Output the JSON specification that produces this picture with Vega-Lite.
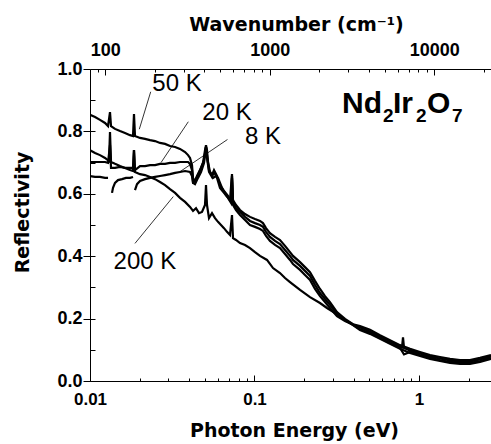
{
 "$schema": "https://vega.github.io/schema/vega-lite/v6.json",
 "width": 401, "height": 312,
 "autosize": {"type": "none"},
 "padding": {"left": 90, "top": 69, "right": 0, "bottom": 63},
 "background": "white",
 "config": {"view": {"stroke": null}, "axis": {"grid": false, "domainColor": "black", "tickColor": "black", "labelColor": "black", "titleColor": "black", "domainWidth": 1, "tickWidth": 1}},
 "layer": [
  {
   "layer": [
    {
     "data": {"values": [
{"c":"50K","E":0.01,"R":0.853},{"c":"50K","E":0.01073,"R":0.846},{"c":"50K","E":0.0115,"R":0.837},{"c":"50K","E":0.01234,"R":0.827},{"c":"50K","E":0.01287,"R":0.817},{"c":"50K","E":0.01323,"R":0.862},{"c":"50K","E":0.01342,"R":0.817},{"c":"50K","E":0.01419,"R":0.808},{"c":"50K","E":0.01522,"R":0.801},{"c":"50K","E":0.01632,"R":0.795},{"c":"50K","E":0.01751,"R":0.788},{"c":"50K","E":0.01826,"R":0.785},{"c":"50K","E":0.01851,"R":0.856},{"c":"50K","E":0.01877,"R":0.785},{"c":"50K","E":0.02014,"R":0.779},{"c":"50K","E":0.0216,"R":0.776},{"c":"50K","E":0.02317,"R":0.772},{"c":"50K","E":0.02485,"R":0.769},{"c":"50K","E":0.02665,"R":0.763},{"c":"50K","E":0.02859,"R":0.76},{"c":"50K","E":0.03064,"R":0.753},{"c":"50K","E":0.03289,"R":0.75},{"c":"50K","E":0.03525,"R":0.744},{"c":"50K","E":0.03784,"R":0.734},{"c":"50K","E":0.03946,"R":0.724},{"c":"50K","E":0.04055,"R":0.715},{"c":"50K","E":0.0417,"R":0.692},{"c":"50K","E":0.04229,"R":0.651},{"c":"50K","E":0.04349,"R":0.638},{"c":"50K","E":0.04472,"R":0.657},{"c":"50K","E":0.04664,"R":0.676},{"c":"50K","E":0.04864,"R":0.699},{"c":"50K","E":0.05002,"R":0.74},{"c":"50K","E":0.05072,"R":0.756},{"c":"50K","E":0.05144,"R":0.74},{"c":"50K","E":0.05216,"R":0.702},{"c":"50K","E":0.05364,"R":0.67},{"c":"50K","E":0.05595,"R":0.651},{"c":"50K","E":0.05834,"R":0.657},{"c":"50K","E":0.06,"R":0.651},{"c":"50K","E":0.06346,"R":0.619},{"c":"50K","E":0.06711,"R":0.596},{"c":"50K","E":0.07097,"R":0.58},{"c":"50K","E":0.07298,"R":0.663},{"c":"50K","E":0.07401,"R":0.58},{"c":"50K","E":0.07719,"R":0.564},{"c":"50K","E":0.08164,"R":0.548},{"c":"50K","E":0.08756,"R":0.535},{"c":"50K","E":0.09391,"R":0.526},{"c":"50K","E":0.1007,"R":0.519},{"c":"50K","E":0.108,"R":0.513},{"c":"50K","E":0.1126,"R":0.506},{"c":"50K","E":0.1175,"R":0.49},{"c":"50K","E":0.1242,"R":0.474},{"c":"50K","E":0.1333,"R":0.462},{"c":"50K","E":0.1429,"R":0.452},{"c":"50K","E":0.1533,"R":0.433},{"c":"50K","E":0.1644,"R":0.413},{"c":"50K","E":0.1714,"R":0.401},{"c":"50K","E":0.1891,"R":0.381},{"c":"50K","E":0.2028,"R":0.365},{"c":"50K","E":0.2175,"R":0.349},{"c":"50K","E":0.2332,"R":0.321},{"c":"50K","E":0.2501,"R":0.295},{"c":"50K","E":0.2683,"R":0.272},{"c":"50K","E":0.2877,"R":0.253},{"c":"50K","E":0.3173,"R":0.221},{"c":"50K","E":0.3549,"R":0.199},{"c":"50K","E":0.397,"R":0.182},{"c":"50K","E":0.4378,"R":0.176},{"c":"50K","E":0.5036,"R":0.164},{"c":"50K","E":0.5794,"R":0.147},{"c":"50K","E":0.6664,"R":0.131},{"c":"50K","E":0.7666,"R":0.115},{"c":"50K","E":0.8819,"R":0.103},{"c":"50K","E":1.014,"R":0.093},{"c":"50K","E":1.167,"R":0.083},{"c":"50K","E":1.342,"R":0.077},{"c":"50K","E":1.544,"R":0.071},{"c":"50K","E":1.776,"R":0.067},{"c":"50K","E":2.042,"R":0.067},{"c":"50K","E":2.349,"R":0.074},{"c":"50K","E":2.74,"R":0.083},
{"c":"20K","E":0.01,"R":0.702},{"c":"20K","E":0.01073,"R":0.702},{"c":"20K","E":0.0115,"R":0.702},{"c":"20K","E":0.01234,"R":0.702},{"c":"20K","E":0.01287,"R":0.699},{"c":"20K","E":0.01323,"R":0.756},{"c":"20K","E":0.01342,"R":0.683},{"c":"20K","E":0.01419,"R":0.683},{"c":"20K","E":0.01522,"R":0.686},{"c":"20K","E":0.01632,"R":0.683},{"c":"20K","E":0.01751,"R":0.683},{"c":"20K","E":0.01826,"R":0.683},{"c":"20K","E":0.01851,"R":0.74},{"c":"20K","E":0.01877,"R":0.676},{"c":"20K","E":0.02014,"R":0.689},{"c":"20K","E":0.0216,"R":0.689},{"c":"20K","E":0.02317,"R":0.692},{"c":"20K","E":0.02485,"R":0.692},{"c":"20K","E":0.02665,"R":0.696},{"c":"20K","E":0.02859,"R":0.696},{"c":"20K","E":0.03064,"R":0.699},{"c":"20K","E":0.03289,"R":0.699},{"c":"20K","E":0.03525,"R":0.702},{"c":"20K","E":0.03784,"R":0.702},{"c":"20K","E":0.03946,"R":0.702},{"c":"20K","E":0.04055,"R":0.696},{"c":"20K","E":0.0417,"R":0.676},{"c":"20K","E":0.04229,"R":0.638},{"c":"20K","E":0.04349,"R":0.644},{"c":"20K","E":0.04535,"R":0.66},{"c":"20K","E":0.0473,"R":0.683},{"c":"20K","E":0.04932,"R":0.708},{"c":"20K","E":0.05072,"R":0.75},{"c":"20K","E":0.05144,"R":0.724},{"c":"20K","E":0.0529,"R":0.676},{"c":"20K","E":0.05517,"R":0.66},{"c":"20K","E":0.05673,"R":0.676},{"c":"20K","E":0.05917,"R":0.657},{"c":"20K","E":0.0617,"R":0.628},{"c":"20K","E":0.06526,"R":0.609},{"c":"20K","E":0.06901,"R":0.593},{"c":"20K","E":0.07197,"R":0.577},{"c":"20K","E":0.07298,"R":0.657},{"c":"20K","E":0.07401,"R":0.571},{"c":"20K","E":0.07719,"R":0.554},{"c":"20K","E":0.08164,"R":0.542},{"c":"20K","E":0.08756,"R":0.526},{"c":"20K","E":0.09391,"R":0.513},{"c":"20K","E":0.1007,"R":0.506},{"c":"20K","E":0.108,"R":0.5},{"c":"20K","E":0.1126,"R":0.494},{"c":"20K","E":0.1175,"R":0.478},{"c":"20K","E":0.1242,"R":0.462},{"c":"20K","E":0.1333,"R":0.449},{"c":"20K","E":0.1429,"R":0.439},{"c":"20K","E":0.1533,"R":0.42},{"c":"20K","E":0.1644,"R":0.401},{"c":"20K","E":0.1714,"R":0.388},{"c":"20K","E":0.1891,"R":0.369},{"c":"20K","E":0.2028,"R":0.353},{"c":"20K","E":0.2175,"R":0.337},{"c":"20K","E":0.2332,"R":0.308},{"c":"20K","E":0.2501,"R":0.282},{"c":"20K","E":0.2683,"R":0.263},{"c":"20K","E":0.2877,"R":0.244},{"c":"20K","E":0.3173,"R":0.215},{"c":"20K","E":0.3549,"R":0.196},{"c":"20K","E":0.397,"R":0.181},{"c":"20K","E":0.4378,"R":0.172},{"c":"20K","E":0.5036,"R":0.159},{"c":"20K","E":0.5794,"R":0.143},{"c":"20K","E":0.6664,"R":0.127},{"c":"20K","E":0.7666,"R":0.111},{"c":"20K","E":0.7884,"R":0.108},{"c":"20K","E":0.7995,"R":0.14},{"c":"20K","E":0.8108,"R":0.106},{"c":"20K","E":0.8819,"R":0.098},{"c":"20K","E":1.014,"R":0.088},{"c":"20K","E":1.167,"R":0.079},{"c":"20K","E":1.342,"R":0.072},{"c":"20K","E":1.544,"R":0.066},{"c":"20K","E":1.776,"R":0.063},{"c":"20K","E":2.042,"R":0.063},{"c":"20K","E":2.349,"R":0.069},{"c":"20K","E":2.74,"R":0.079},
{"c":"8Ka","E":0.01,"R":0.657},{"c":"8Ka","E":0.01073,"R":0.654},{"c":"8Ka","E":0.0115,"R":0.654},{"c":"8Ka","E":0.01234,"R":0.651},{"c":"8Ka","E":0.01287,"R":0.651},
{"c":"8Kb","E":0.01361,"R":0.603},{"c":"8Kb","E":0.0138,"R":0.619},{"c":"8Kb","E":0.01419,"R":0.635},{"c":"8Kb","E":0.0148,"R":0.644},{"c":"8Kb","E":0.01565,"R":0.647},{"c":"8Kb","E":0.01655,"R":0.651},{"c":"8Kb","E":0.01751,"R":0.651},{"c":"8Kb","E":0.01826,"R":0.654},
{"c":"8Kc","E":0.01877,"R":0.612},{"c":"8Kc","E":0.01931,"R":0.631},{"c":"8Kc","E":0.02014,"R":0.641},{"c":"8Kc","E":0.0216,"R":0.647},{"c":"8Kc","E":0.02317,"R":0.651},{"c":"8Kc","E":0.02485,"R":0.654},{"c":"8Kc","E":0.02665,"R":0.657},{"c":"8Kc","E":0.02859,"R":0.66},{"c":"8Kc","E":0.03064,"R":0.663},{"c":"8Kc","E":0.03289,"R":0.667},{"c":"8Kc","E":0.03525,"R":0.67},{"c":"8Kc","E":0.03784,"R":0.673},{"c":"8Kc","E":0.04055,"R":0.67},{"c":"8Kc","E":0.0417,"R":0.657},{"c":"8Kc","E":0.04229,"R":0.635},{"c":"8Kc","E":0.04349,"R":0.631},{"c":"8Kc","E":0.04535,"R":0.651},{"c":"8Kc","E":0.0473,"R":0.67},{"c":"8Kc","E":0.04932,"R":0.699},{"c":"8Kc","E":0.05072,"R":0.75},{"c":"8Kc","E":0.05144,"R":0.715},{"c":"8Kc","E":0.0529,"R":0.67},{"c":"8Kc","E":0.05517,"R":0.654},{"c":"8Kc","E":0.05673,"R":0.67},{"c":"8Kc","E":0.05917,"R":0.651},{"c":"8Kc","E":0.0617,"R":0.619},{"c":"8Kc","E":0.06526,"R":0.603},{"c":"8Kc","E":0.06901,"R":0.587},{"c":"8Kc","E":0.07197,"R":0.571},{"c":"8Kc","E":0.07298,"R":0.651},{"c":"8Kc","E":0.07401,"R":0.564},{"c":"8Kc","E":0.07719,"R":0.548},{"c":"8Kc","E":0.08164,"R":0.532},{"c":"8Kc","E":0.08756,"R":0.516},{"c":"8Kc","E":0.09391,"R":0.5},{"c":"8Kc","E":0.1007,"R":0.494},{"c":"8Kc","E":0.108,"R":0.487},{"c":"8Kc","E":0.1126,"R":0.481},{"c":"8Kc","E":0.1175,"R":0.465},{"c":"8Kc","E":0.1242,"R":0.449},{"c":"8Kc","E":0.1333,"R":0.436},{"c":"8Kc","E":0.1429,"R":0.426},{"c":"8Kc","E":0.1533,"R":0.407},{"c":"8Kc","E":0.1644,"R":0.388},{"c":"8Kc","E":0.1714,"R":0.375},{"c":"8Kc","E":0.1891,"R":0.356},{"c":"8Kc","E":0.2028,"R":0.34},{"c":"8Kc","E":0.2175,"R":0.324},{"c":"8Kc","E":0.2332,"R":0.295},{"c":"8Kc","E":0.2501,"R":0.272},{"c":"8Kc","E":0.2683,"R":0.253},{"c":"8Kc","E":0.2877,"R":0.234},{"c":"8Kc","E":0.3173,"R":0.208},{"c":"8Kc","E":0.3549,"R":0.192},{"c":"8Kc","E":0.397,"R":0.18},{"c":"8Kc","E":0.4378,"R":0.167},{"c":"8Kc","E":0.5036,"R":0.154},{"c":"8Kc","E":0.5794,"R":0.138},{"c":"8Kc","E":0.6664,"R":0.122},{"c":"8Kc","E":0.7666,"R":0.106},{"c":"8Kc","E":0.8108,"R":0.085},{"c":"8Kc","E":0.8819,"R":0.093},{"c":"8Kc","E":1.014,"R":0.083},{"c":"8Kc","E":1.167,"R":0.074},{"c":"8Kc","E":1.342,"R":0.067},{"c":"8Kc","E":1.544,"R":0.061},{"c":"8Kc","E":1.776,"R":0.058},{"c":"8Kc","E":2.042,"R":0.058},{"c":"8Kc","E":2.349,"R":0.064},{"c":"8Kc","E":2.74,"R":0.074},
{"c":"200K","E":0.01,"R":0.74},{"c":"200K","E":0.01073,"R":0.731},{"c":"200K","E":0.0115,"R":0.724},{"c":"200K","E":0.01234,"R":0.715},{"c":"200K","E":0.01305,"R":0.705},{"c":"200K","E":0.01323,"R":0.798},{"c":"200K","E":0.01342,"R":0.702},{"c":"200K","E":0.01419,"R":0.696},{"c":"200K","E":0.01522,"R":0.689},{"c":"200K","E":0.01632,"R":0.683},{"c":"200K","E":0.01751,"R":0.676},{"c":"200K","E":0.01826,"R":0.673},{"c":"200K","E":0.01851,"R":0.74},{"c":"200K","E":0.01877,"R":0.67},{"c":"200K","E":0.02014,"R":0.663},{"c":"200K","E":0.0216,"R":0.66},{"c":"200K","E":0.02317,"R":0.654},{"c":"200K","E":0.02485,"R":0.647},{"c":"200K","E":0.02665,"R":0.638},{"c":"200K","E":0.02859,"R":0.628},{"c":"200K","E":0.03064,"R":0.615},{"c":"200K","E":0.03289,"R":0.603},{"c":"200K","E":0.03525,"R":0.587},{"c":"200K","E":0.03784,"R":0.574},{"c":"200K","E":0.04055,"R":0.558},{"c":"200K","E":0.04229,"R":0.545},{"c":"200K","E":0.0441,"R":0.554},{"c":"200K","E":0.04599,"R":0.538},{"c":"200K","E":0.04796,"R":0.542},{"c":"200K","E":0.05002,"R":0.564},{"c":"200K","E":0.05072,"R":0.628},{"c":"200K","E":0.05144,"R":0.564},{"c":"200K","E":0.0529,"R":0.522},{"c":"200K","E":0.05517,"R":0.538},{"c":"200K","E":0.05753,"R":0.522},{"c":"200K","E":0.06,"R":0.51},{"c":"200K","E":0.06257,"R":0.5},{"c":"200K","E":0.06526,"R":0.49},{"c":"200K","E":0.06805,"R":0.478},{"c":"200K","E":0.07097,"R":0.468},{"c":"200K","E":0.07298,"R":0.532},{"c":"200K","E":0.07401,"R":0.458},{"c":"200K","E":0.07719,"R":0.452},{"c":"200K","E":0.08164,"R":0.442},{"c":"200K","E":0.08756,"R":0.436},{"c":"200K","E":0.09391,"R":0.426},{"c":"200K","E":0.1007,"R":0.413},{"c":"200K","E":0.108,"R":0.401},{"c":"200K","E":0.1191,"R":0.388},{"c":"200K","E":0.1296,"R":0.362},{"c":"200K","E":0.1429,"R":0.346},{"c":"200K","E":0.1533,"R":0.33},{"c":"200K","E":0.1644,"R":0.317},{"c":"200K","E":0.1891,"R":0.292},{"c":"200K","E":0.2175,"R":0.269},{"c":"200K","E":0.2501,"R":0.25},{"c":"200K","E":0.2759,"R":0.234},{"c":"200K","E":0.3086,"R":0.218},{"c":"200K","E":0.3309,"R":0.205},{"c":"200K","E":0.365,"R":0.192},{"c":"200K","E":0.397,"R":0.179},{"c":"200K","E":0.4378,"R":0.163},{"c":"200K","E":0.5036,"R":0.151},{"c":"200K","E":0.5794,"R":0.135},{"c":"200K","E":0.6664,"R":0.119},{"c":"200K","E":0.7666,"R":0.103},{"c":"200K","E":0.8819,"R":0.09},{"c":"200K","E":1.014,"R":0.08},{"c":"200K","E":1.167,"R":0.071},{"c":"200K","E":1.342,"R":0.064},{"c":"200K","E":1.544,"R":0.058},{"c":"200K","E":1.776,"R":0.055},{"c":"200K","E":2.042,"R":0.055},{"c":"200K","E":2.349,"R":0.061},{"c":"200K","E":2.74,"R":0.071}
     ]},
     "mark": {"type": "line", "color": "black", "strokeWidth": 2.2, "clip": true},
     "encoding": {
      "x": {"field": "E", "type": "quantitative", "scale": {"type": "log", "domain": [0.01, 2.74], "nice": false},
       "axis": {"orient": "bottom", "values": [0.01,0.02,0.03,0.04,0.05,0.06,0.07,0.08,0.09,0.1,0.2,0.3,0.4,0.5,0.6,0.7,0.8,0.9,1,2],
        "labelExpr": "datum.value==0.01 ? '0.01' : datum.value==0.1 ? '0.1' : datum.value==1 ? '1' : ''",
        "tickSize": {"condition": {"test": "datum.value==0.01 || datum.value==0.1 || datum.value==1", "value": -6}, "value": -3},
        "labelPadding": 16, "labelFont": "Liberation Sans", "labelFontSize": 17, "labelFontWeight": "bold", "labelFlush": false, "labelOverlap": false,
        "title": "Photon Energy (eV)", "titleFont": "DejaVu Sans", "titleFontSize": 19, "titleFontWeight": "bold", "titleX": 204, "titleY": 55, "titleBaseline": "alphabetic", "titleAlign": "center"}},
      "y": {"field": "R", "type": "quantitative", "scale": {"domain": [0, 1], "nice": false},
       "axis": {"orient": "left", "values": [0,0.1,0.2,0.3,0.4,0.5,0.6,0.7,0.8,0.9,1],
        "labelExpr": "round(datum.value*10)%2==0 ? format(datum.value,'.1f') : ''",
        "tickSize": 7, "labelPadding": 1, "labelFont": "Liberation Sans", "labelFontSize": 18, "labelFontWeight": "bold", "labelFlush": false, "labelOverlap": false,
        "title": "Reflectivity", "titleFont": "DejaVu Sans", "titleFontSize": 19, "titleFontWeight": "bold", "titleAngle": -90, "titleX": -62, "titleY": 143, "titleAlign": "center", "titleBaseline": "alphabetic"}},
      "detail": {"field": "c", "type": "nominal"}
     }
    },
    {
     "data": {"values": [
      {"E": 0.02339, "R": 0.927, "E2": 0.01994, "R2": 0.807},
      {"E": 0.0396, "R": 0.831, "E2": 0.02702, "R2": 0.7},
      {"E": 0.0685, "R": 0.774, "E2": 0.03525, "R2": 0.671},
      {"E": 0.01877, "R": 0.441, "E2": 0.03209, "R2": 0.591}
     ]},
     "mark": {"type": "rule", "color": "black", "strokeWidth": 0.8},
     "encoding": {"x": {"field": "E", "type": "quantitative"}, "y": {"field": "R", "type": "quantitative"}, "x2": {"field": "E2"}, "y2": {"field": "R2"}}
    },
    {
     "data": {"values": [
      {"E": 0.0338, "R": 0.952, "label": "50 K"},
      {"E": 0.0681, "R": 0.859, "label": "20 K"},
      {"E": 0.1126, "R": 0.782, "label": "8 K"},
      {"E": 0.02159, "R": 0.381, "label": "200 K"}
     ]},
     "mark": {"type": "text", "font": "Liberation Sans", "fontSize": 24, "color": "black", "align": "center", "baseline": "middle"},
     "encoding": {"x": {"field": "E", "type": "quantitative"}, "y": {"field": "R", "type": "quantitative"}, "text": {"field": "label"}}
    },
    {
     "data": {"values": [
      {"E": 0.3403, "R": 0.859, "label": "Nd"},
      {"E": 0.695, "R": 0.859, "label": "Ir"},
      {"E": 1.1185, "R": 0.859, "label": "O"}
     ]},
     "mark": {"type": "text", "font": "Liberation Sans", "fontSize": 30, "fontWeight": "bold", "color": "black", "align": "left", "baseline": "alphabetic"},
     "encoding": {"x": {"field": "E", "type": "quantitative"}, "y": {"field": "R", "type": "quantitative"}, "text": {"field": "label"}}
    },
    {
     "data": {"values": [
      {"E": 0.6041, "R": 0.83, "label": "2"},
      {"E": 0.9589, "R": 0.83, "label": "2"},
      {"E": 1.587, "R": 0.83, "label": "7"}
     ]},
     "mark": {"type": "text", "font": "Liberation Sans", "fontSize": 19, "fontWeight": "bold", "color": "black", "align": "left", "baseline": "alphabetic"},
     "encoding": {"x": {"field": "E", "type": "quantitative"}, "y": {"field": "R", "type": "quantitative"}, "text": {"field": "label"}}
    }
   ]
  },
  {
   "data": {"values": [{"W": 1000, "R": 0.5}]},
   "mark": {"type": "point", "opacity": 0},
   "encoding": {
    "x": {"field": "W", "type": "quantitative", "scale": {"type": "log", "domain": [80.655, 22100], "nice": false},
     "axis": {"orient": "top", "values": [90,100,200,300,400,500,600,700,800,900,1000,2000,3000,4000,5000,6000,7000,8000,9000,10000,20000],
      "labelExpr": "datum.value==100 || datum.value==1000 || datum.value==10000 ? toString(datum.value) : ''",
      "tickSize": {"condition": {"test": "datum.value==100 || datum.value==1000 || datum.value==10000", "value": -6}, "value": -3},
      "labelPadding": 16, "labelFont": "Liberation Sans", "labelFontSize": 18, "labelFontWeight": "bold", "labelFlush": false, "labelOverlap": false,
      "title": "Wavenumber (cm⁻¹)", "titleFont": "DejaVu Sans", "titleFontSize": 19, "titleFontWeight": "bold", "titleX": 206, "titleY": -39, "titleBaseline": "alphabetic", "titleAlign": "center"}},
    "y": {"field": "R", "type": "quantitative",
     "axis": {"orient": "right", "offset": -401, "values": [0,0.1,0.2,0.3,0.4,0.5,0.6,0.7,0.8,0.9,1], "tickSize": 5, "labels": false, "domain": false, "title": null}}
   }
  }
 ],
 "resolve": {"scale": {"x": "independent"}, "axis": {"x": "independent", "y": "independent"}}
}
